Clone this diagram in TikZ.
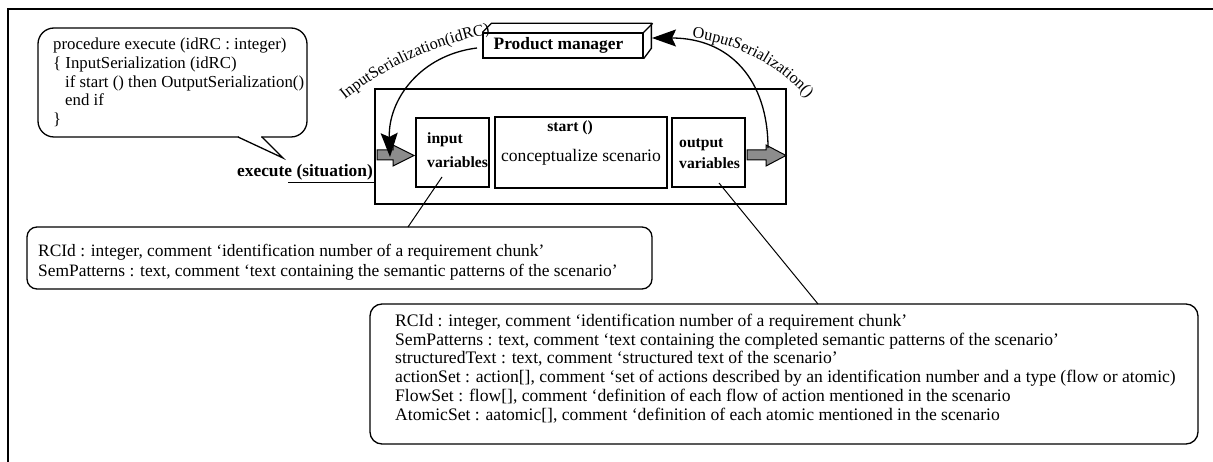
\documentclass[tikz,border=0pt]{standalone}
\usepackage{fontspec}
\setmainfont{Liberation Serif}
\usetikzlibrary{arrows.meta,decorations.text}
\newcommand\setfs[2]{\fontsize{#1}{#2}\selectfont}
\definecolor{arrowgrey}{HTML}{8C8C8C}
\begin{document}
\begin{tikzpicture}[x=1pt,y=-1pt,
  blk/.style={draw,line width=1.3pt,inner sep=0pt},
  txt/.style={font=\setfs{17.6}{18.7},align=left,inner sep=0pt},
  bold/.style={font=\setfs{15.6}{18.7}\bfseries,inner sep=0pt},
  link/.style={line width=1pt},
  bigarrow/.style={line width=1.3pt,-{Stealth[length=24pt,width=17pt,inset=4pt]}},
  blockarrow/.style={draw,line width=1pt,fill=arrowgrey,line join=miter}]
\useasboundingbox (0,0) rectangle (1213,462);

% page frame
\draw[line width=1.3pt] (1213,9) -- (8,9) -- (8,462);

% speech bubble with the procedure
\node[blk,rounded corners=16pt,fill=white,minimum width=269pt,minimum height=109pt] (bubble) at (172.5,82.5) {};
\fill[white] (239,134) rectangle (261,140);
\coordinate (tailL) at (238,137);
\coordinate (tailR) at (262,137);
\coordinate (tailTip) at (283,158);
\draw[line width=1.3pt,line join=miter] (tailL) -- (tailTip) -- (tailR);
\node[txt,anchor=west,font=\setfs{16.8}{18.7}] (code) at (53,82.5) {procedure execute (idRC : integer)\\
\{ InputSerialization (idRC)\\
\hspace*{12pt}if start () then OutputSerialization()\\
\hspace*{12pt}end if\\
\}};

% component and its parts
\node[blk,minimum width=411pt,minimum height=115pt] (comp) at (580.5,146.5) {};
\node[blk,minimum width=73pt,minimum height=69pt] (inv) at (452.5,152.5) {};
\node[blk,minimum width=172pt,minimum height=71pt] (mid) at (581,152.5) {};
\node[blk,minimum width=73pt,minimum height=69pt] (outv) at (708.5,152.5) {};

\node[bold,anchor=west] (inT1) at (427,140) {input};
\node[bold,anchor=west] (inT2) at (427,162) {variables};
\node[bold,anchor=west] (outT1) at (679,145) {output};
\node[bold,anchor=west] (outT2) at (679,163) {variables};
\node[bold] (startT) at (570,128) {start ()};
\node[txt,font=\setfs{17.6}{20}] (concT) at (581,157) {conceptualize scenario};

% execute label with its interface line
\node[bold,font=\setfs{17.4}{20}\bfseries] (exec) at (305,172) {execute (situation)};
\coordinate (ul) at (288,183);
\draw[link] (ul) -- (ul -| comp.west);

% grey block arrows in and out
\draw[blockarrow] (377,150) -- (393,150) -- (393,145) -- (414,155.5) -- (393,166) -- (393,160) -- (377,160) -- cycle;
\draw[blockarrow] (747,150) -- (766,150) -- (766,145) -- (786,155.5) -- (766,166) -- (766,160) -- (747,160) -- cycle;

% product manager box in 3D
\node[blk,minimum width=160pt,minimum height=25pt,font=\setfs{17.4}{18}\bfseries] (pm) at (563,45.5) {\hspace*{-9pt}Product manager};
\draw[line width=1.3pt,line join=miter] (pm.north west) -- ++(9,-9) -- ++(160,0) -- ++(0,25) -- (pm.south east);
\draw[line width=1.3pt] (pm.north east) -- ++(9,-9);

% serialization arrows
\coordinate (inS) at (477,48);
\coordinate (inE) at (390,157);
\draw[bigarrow] (inS) .. controls (420,55) and (388,100) .. (inE);
\coordinate (outS) at (768,148);
\coordinate (outE) at (652,38);
\draw[bigarrow] (outS) .. controls (768,80) and (730,38) .. (outE);

% labels following the arrows
\path[decorate,decoration={text along path,text align=left,
  text={|\setfs{16.2}{18}|InputSerialization(idRC)}}]
  (345,100) .. controls (390,64) and (440,40) .. (530,26);
\path[decorate,decoration={text along path,text align=left,
  text={|\setfs{16.2}{18}|OuputSerialization()}}]
  (692,38) .. controls (742,43) and (792,72) .. (822,118);

% variable descriptions
\node[blk,rounded corners=10pt,minimum width=625pt,minimum height=62pt] (b1) at (339.5,258) {};
\node[txt,anchor=west,font=\setfs{17.4}{20}] (b1T) at (38,262) {RCId : integer, comment ‘identification number of a requirement chunk’\\
SemPatterns : text, comment ‘text containing the semantic patterns of the scenario’};

\node[blk,rounded corners=12pt,minimum width=828pt,minimum height=140pt] (b2) at (784,374) {};
\node[txt,anchor=west] (b2T) at (395,368.5) {RCId : integer, comment ‘identification number of a requirement chunk’\\
SemPatterns : text, comment ‘text containing the completed semantic patterns of the scenario’\\
structuredText : text, comment ‘structured text of the scenario’\\
actionSet : action[], comment ‘set of actions described by an identification number and a type (flow or atomic)\\
FlowSet : flow[], comment ‘definition of each flow of action mentioned in the scenario\\
AtomicSet : aatomic[], comment ‘definition of each atomic mentioned in the scenario};

% callout lines
\coordinate (inL) at (442,177);
\coordinate (b1top) at (408,227);
\draw[link] (inL) -- (b1top);
\coordinate (outL) at (719,183);
\coordinate (b2top) at (818,304);
\draw[link] (outL) -- (b2top);
\end{tikzpicture}
\end{document}
